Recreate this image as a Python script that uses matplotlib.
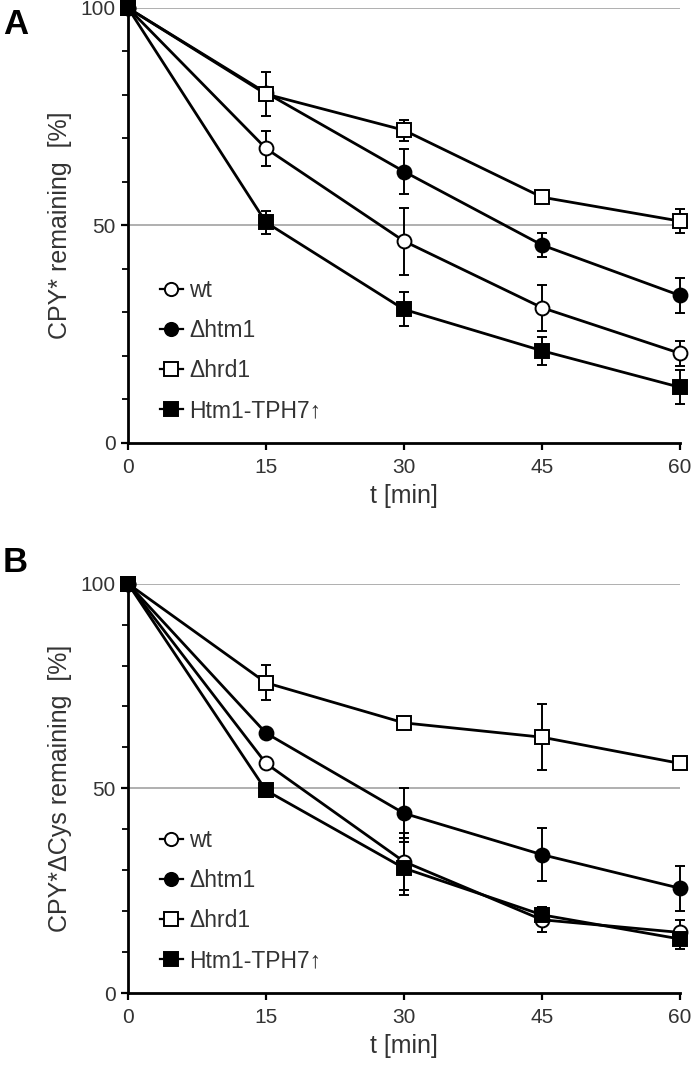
import matplotlib
matplotlib.use("Agg")
import matplotlib.pyplot as plt
import numpy as np

plt.rcParams['font.family'] = ['Liberation Sans Narrow', 'Liberation Sans', 'DejaVu Sans']

# time points
t = [0, 15, 30, 45, 60]
labels = ['wt', '\u0394htm1', '\u0394hrd1', 'Htm1-TPH7\u2191']

# panel A: CPY*
a_wt = [100, 67.7, 46.4, 31.1, 20.6]
a_wt_err = [0, 4.0, 7.7, 5.3, 2.9]
a_htm1 = [100, 80.5, 62.4, 45.5, 33.9]
a_htm1_err = [0, 0, 5.1, 2.8, 4.1]
a_hrd1 = [100, 80.2, 71.9, 56.5, 51.0]
a_hrd1_err = [0, 5.1, 2.4, 1.0, 2.7]
a_tph7 = [100, 50.7, 30.7, 21.2, 12.8]
a_tph7_err = [0, 2.6, 3.9, 3.2, 3.9]

# panel B: CPY*dCys
b_wt = [100, 56.1, 32.1, 17.9, 14.8]
b_wt_err = [0, 1.0, 7.0, 3.0, 3.0]
b_htm1 = [100, 63.5, 43.9, 33.8, 25.6]
b_htm1_err = [0, 0, 6.1, 6.4, 5.5]
b_hrd1 = [100, 75.8, 66.0, 62.5, 56.1]
b_hrd1_err = [0, 4.3, 0.8, 8.0, 0.8]
b_tph7 = [100, 49.5, 30.5, 19.1, 13.2]
b_tph7_err = [0, 1.5, 6.5, 2.0, 2.5]

styles = [('o', 'white'), ('o', 'black'), ('s', 'white'), ('s', 'black')]

fig = plt.figure(figsize=(6.93, 10.91), dpi=100)


def panel(ax, series, errs, ylabel, letter, letter_y):
    for y in (50, 100):
        ax.axhline(y, color='#9a9a9a', lw=1.1, zorder=0)
    handles = []
    for (vals, err), (m, fc), lab in zip(zip(series, errs), styles, labels):
        ax.errorbar(t, vals, yerr=err, fmt='none', ecolor='black', elinewidth=1.4,
                    capsize=3.5, capthick=1.4, zorder=2, clip_on=False)
        h, = ax.plot(t, vals, color='black', lw=2.0, marker=m, markersize=10 if m == 'o' else 10.5,
                     markerfacecolor=fc, markeredgecolor='black', markeredgewidth=1.4,
                     zorder=3, clip_on=False, label=lab)
        handles.append(h)
    ax.set_xlim(0, 60)
    ax.set_ylim(0, 100)
    ax.set_xticks(t)
    ax.set_yticks([0, 50, 100])
    ax.set_yticks(np.arange(0, 101, 10), minor=True)
    ax.tick_params(axis='both', labelsize=15, width=1.6, length=5, direction='out', pad=6)
    ax.tick_params(axis='y', which='minor', width=1.3, length=4)
    ax.tick_params(axis='y', labelcolor='#333333', pad=4)
    ax.tick_params(axis='x', labelcolor='#333333')
    for s in ('top', 'right'):
        ax.spines[s].set_visible(False)
    for s in ('left', 'bottom'):
        ax.spines[s].set_linewidth(2.0)
    ax.set_ylabel(ylabel, fontsize=18, color='#333333', labelpad=6)
    ax.set_xlabel('t [min]', fontsize=18, color='#333333', labelpad=5)
    leg = ax.legend(handles=handles, loc='lower left', bbox_to_anchor=(0.02, 0.0),
                    frameon=False, fontsize=16.5, handlelength=1.0, handletextpad=0.3,
                    labelspacing=0.75, markerscale=0.95, labelcolor='#333333')
    for line in leg.get_lines():
        line.set_linewidth(1.6)
    fig.text(0.004, letter_y, letter, fontsize=25, fontweight='bold',
             ha='left', va='center', family=['Liberation Sans', 'DejaVu Sans'])


ax1 = fig.add_axes([0.1847, 0.5940, 0.7965, 0.3987])
panel(ax1, [a_wt, a_htm1, a_hrd1, a_tph7], [a_wt_err, a_htm1_err, a_hrd1_err, a_tph7_err],
      'CPY* remaining  [%]', 'A', 1 - 24 / 1091)
ax2 = fig.add_axes([0.1847, 0.0898, 0.7965, 0.3752])
panel(ax2, [b_wt, b_htm1, b_hrd1, b_tph7], [b_wt_err, b_htm1_err, b_hrd1_err, b_tph7_err],
      'CPY*\u0394Cys remaining  [%]', 'B', 1 - 563 / 1091)

fig.savefig('out.png', dpi=100)
